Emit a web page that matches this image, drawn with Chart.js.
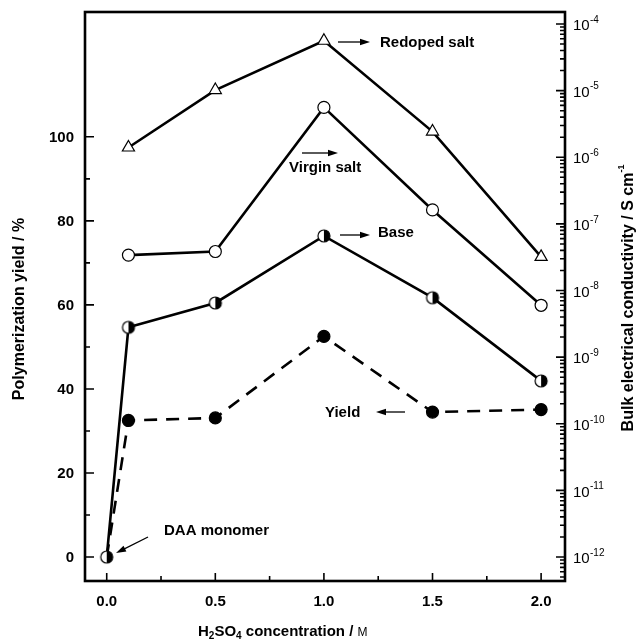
<!DOCTYPE html>
<html>
<head>
<meta charset="utf-8">
<script src="https://cdn.jsdelivr.net/npm/chart.js@4.4.1/dist/chart.umd.min.js"></script>
<style>
  html, body { margin: 0; padding: 0; background: #fff; }
  canvas { display: block; }
</style>
</head>
<body>
<canvas id="chart" width="640" height="639"></canvas>
<script>
// --- data ---
const concentrations = [0.0, 0.1, 0.5, 1.0, 1.5, 2.0];          // H2SO4 / M
const yieldPct       = [0, 32.5, 33.1, 52.5, 34.5, 35.1];          // left axis, %
const baseCond       = [1e-12, 2.8e-9, 6.5e-9, 6.6e-8, 7.8e-9, 4.4e-10];
const virginCond     = [null, 3.4e-8, 3.85e-8, 5.6e-6, 1.62e-7, 6.0e-9];
const redopedCond    = [null, 1.4e-6, 1.02e-5, 5.6e-5, 2.43e-6, 3.2e-8];

const xTicks      = [0.0, 0.5, 1.0, 1.5, 2.0];
const xMinorTicks = [0.25, 0.75, 1.25, 1.75];
const yieldTicks  = [0, 20, 40, 60, 80, 100];
const yieldMinor  = [10, 30, 50, 70, 90];
const condExponents = [-12, -11, -10, -9, -8, -7, -6, -5, -4];

const X_RANGE = [-0.1, 2.11];
const YIELD_RANGE = [-5.7, 129.7];
const LOG_RANGE = [-12.36, -3.82];

const FONT = '"Liberation Sans", Arial, Helvetica, sans-serif';

function points(ys) {
  return concentrations.map((x, i) => ({ x, y: ys[i] })).filter(p => p.y !== null);
}

// half filled circle (left open, right filled)
function halfCircle(r) {
  const c = document.createElement('canvas');
  const s = Math.ceil(r * 2 + 4);
  c.width = c.height = s;
  const g = c.getContext('2d');
  const m = s / 2;
  g.beginPath(); g.arc(m, m, r, 0, Math.PI * 2); g.fillStyle = '#fff'; g.fill();
  g.beginPath(); g.moveTo(m, m - r); g.arc(m, m, r, -Math.PI / 2, Math.PI / 2); g.closePath();
  g.fillStyle = '#000'; g.fill();
  g.beginPath(); g.arc(m, m, r, 0, Math.PI * 2); g.lineWidth = 1.2; g.strokeStyle = '#000'; g.stroke();
  return c;
}
const halfMarker = halfCircle(6);

function arrow(ctx, x1, y1, x2, y2) {
  const a = Math.atan2(y2 - y1, x2 - x1);
  ctx.save();
  ctx.strokeStyle = '#000'; ctx.fillStyle = '#000'; ctx.lineWidth = 1.3;
  ctx.beginPath(); ctx.moveTo(x1, y1); ctx.lineTo(x2 - 6 * Math.cos(a), y2 - 6 * Math.sin(a)); ctx.stroke();
  ctx.translate(x2, y2); ctx.rotate(a);
  ctx.beginPath(); ctx.moveTo(0, 0); ctx.lineTo(-10, -3.2); ctx.lineTo(-10, 3.2); ctx.closePath(); ctx.fill();
  ctx.restore();
}

const decorPlugin = {
  id: 'decor',
  afterDraw(chart) {
    const { ctx, chartArea: { left, right, top, bottom } } = chart;
    const sx = chart.scales.x, sy = chart.scales.y, sc = chart.scales.y2;
    ctx.save();
    ctx.strokeStyle = '#000';
    ctx.fillStyle = '#000';

    // frame
    ctx.lineWidth = 2.6;
    ctx.strokeRect(left, top, right - left, bottom - top);

    // ticks (inward)
    ctx.lineWidth = 1.6;
    ctx.beginPath();
    xTicks.forEach(v => { const p = sx.getPixelForValue(v); ctx.moveTo(p, bottom); ctx.lineTo(p, bottom - 8); });
    xMinorTicks.forEach(v => { const p = sx.getPixelForValue(v); ctx.moveTo(p, bottom); ctx.lineTo(p, bottom - 5); });
    yieldTicks.forEach(v => { const p = sy.getPixelForValue(v); ctx.moveTo(left, p); ctx.lineTo(left + 9, p); });
    yieldMinor.forEach(v => { const p = sy.getPixelForValue(v); ctx.moveTo(left, p); ctx.lineTo(left + 5, p); });
    for (let e = -13; e <= -4; e++) {
      for (let k = 1; k <= 9; k++) {
        const v = k * Math.pow(10, e);
        const lv = Math.log10(v);
        if (lv < LOG_RANGE[0] || lv > LOG_RANGE[1]) continue;
        const p = sc.getPixelForValue(v);
        ctx.moveTo(right, p); ctx.lineTo(right - (k === 1 ? 9 : 5), p);
      }
    }
    ctx.stroke();

    // x tick labels
    ctx.font = 'bold 15px ' + FONT;
    ctx.textAlign = 'center'; ctx.textBaseline = 'middle';
    xTicks.forEach(v => ctx.fillText(v.toFixed(1), sx.getPixelForValue(v), 602));

    // left tick labels
    ctx.textAlign = 'right';
    yieldTicks.forEach(v => ctx.fillText(String(v), 74, sy.getPixelForValue(v) + 1));

    // right tick labels: 10^n
    ctx.textAlign = 'left';
    condExponents.forEach(e => {
      const p = sc.getPixelForValue(Math.pow(10, e));
      ctx.font = '15px ' + FONT;
      ctx.fillText('10', 573, p + 2);
      ctx.font = '10px ' + FONT;
      ctx.fillText(String(e), 590, p - 4);
    });

    // x title: H2SO4 concentration / M
    let x = 198; const ty = 632;
    const seg = (t, f, dy) => { ctx.font = f; ctx.fillText(t, x, ty + dy); x += ctx.measureText(t).width; };
    ctx.textAlign = 'left';
    seg('H', 'bold 15px ' + FONT, 0);
    seg('2', 'bold 10px ' + FONT, 4);
    seg('SO', 'bold 15px ' + FONT, 0);
    seg('4', 'bold 10px ' + FONT, 4);
    seg(' concentration / ', 'bold 15px ' + FONT, 0);
    seg('M', '12px ' + FONT, 1);

    // left title
    ctx.save();
    ctx.translate(20, 309); ctx.rotate(-Math.PI / 2);
    ctx.font = 'bold 16px ' + FONT; ctx.textAlign = 'center';
    ctx.fillText('Polymerization yield / %', 0, 0);
    ctx.restore();

    // right title
    ctx.save();
    ctx.translate(629, 298); ctx.rotate(-Math.PI / 2);
    ctx.font = 'bold 16px ' + FONT; ctx.textAlign = 'left';
    const main = 'Bulk electrical conductivity / S cm';
    const w = ctx.measureText(main).width;
    ctx.fillText(main, -w / 2 - 4, 0);
    ctx.font = 'bold 9px ' + FONT;
    ctx.fillText('-1', w / 2 - 4, -7);
    ctx.restore();

    // annotations
    ctx.font = 'bold 15px ' + FONT; ctx.textAlign = 'left'; ctx.textBaseline = 'middle';
    ctx.fillText('Redoped salt', 380, 43);
    arrow(ctx, 338, 42, 370, 42);
    ctx.fillText('Virgin salt', 289, 168);
    arrow(ctx, 302, 153, 338, 153);
    ctx.fillText('Base', 378, 233);
    arrow(ctx, 340, 235, 370, 235);
    ctx.fillText('Yield', 325, 413);
    arrow(ctx, 405, 412, 376, 412);
    ctx.fillText('DAA monomer', 164, 531);
    arrow(ctx, 148, 537, 116, 553);

    ctx.restore();
  }
};

const lineStyle = { borderColor: '#000', borderWidth: 2.6, tension: 0, pointBorderColor: '#000', pointBorderWidth: 1.2 };

new Chart(document.getElementById('chart'), {
  type: 'line',
  data: {
    datasets: [
      { ...lineStyle, label: 'Base', yAxisID: 'y2', data: points(baseCond),
        pointStyle: halfMarker, pointRadius: 6 },
      { ...lineStyle, label: 'Virgin salt', yAxisID: 'y2', data: points(virginCond),
        pointStyle: 'circle', pointRadius: 6, pointBackgroundColor: '#fff' },
      { ...lineStyle, label: 'Redoped salt', yAxisID: 'y2', data: points(redopedCond),
        pointStyle: 'triangle', pointRadius: 7, pointBackgroundColor: '#fff' },
      { ...lineStyle, label: 'Yield', yAxisID: 'y', data: points(yieldPct), borderDash: [13, 9],
        pointStyle: 'circle', pointRadius: yieldPct.map((v, i) => i === 0 ? 0 : 6), pointBackgroundColor: '#000' }
    ]
  },
  options: {
    responsive: false,
    animation: false,
    layout: { padding: { left: 85, top: 12, right: 75, bottom: 58 } },
    scales: {
      x: { type: 'linear', min: X_RANGE[0], max: X_RANGE[1], display: false },
      y: { type: 'linear', position: 'left', min: YIELD_RANGE[0], max: YIELD_RANGE[1], display: false },
      y2: { type: 'logarithmic', position: 'right', min: Math.pow(10, LOG_RANGE[0]), max: Math.pow(10, LOG_RANGE[1]), display: false }
    },
    plugins: { legend: { display: false }, tooltip: { enabled: false } }
  },
  plugins: [decorPlugin]
});
</script>
</body>
</html>
